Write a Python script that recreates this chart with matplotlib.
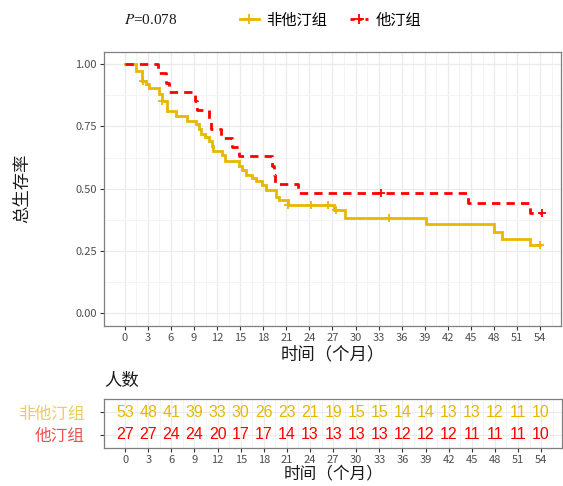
import matplotlib
matplotlib.use('Agg')
import matplotlib.pyplot as plt
from matplotlib.lines import Line2D
import numpy as np

plt.rcParams['font.family'] = ['Noto Sans CJK SC', 'DejaVu Sans']
plt.rcParams['mathtext.fontset'] = 'stix'

# survival steps (time in months, survival after the step)
nonstatin_t = [0, 1.5, 2.2, 2.7, 3.1, 4.5, 4.8, 5.5, 6.6, 8.1, 9.3, 9.6, 9.9, 10.4, 10.9,
               11.3, 11.5, 12.6, 13.0, 14.8, 15.2, 15.7, 16.5, 17.1, 17.8, 18.4, 19.7,
               20.1, 21.2, 27.2, 28.6, 39.1, 48.0, 49.0, 52.7]
nonstatin_s = [1.0, 0.972, 0.934, 0.920, 0.906, 0.880, 0.853, 0.813, 0.790, 0.773, 0.758,
               0.740, 0.720, 0.706, 0.693, 0.673, 0.653, 0.636, 0.613, 0.593, 0.577, 0.556,
               0.543, 0.530, 0.516, 0.493, 0.467, 0.453, 0.436, 0.413, 0.384, 0.357, 0.327,
               0.300, 0.273]
nonstatin_end = 54.0
nonstatin_cens_t = [2.4, 4.9, 21.2, 24.2, 26.4, 27.5, 34.3, 54.0]

statin_t = [0, 4.3, 5.3, 5.8, 9.1, 9.4, 10.9, 11.2, 12.5, 13.9, 14.8, 19.2, 19.35, 19.5,
            22.5, 44.6, 52.7]
statin_s = [1.0, 0.963, 0.926, 0.889, 0.852, 0.815, 0.778, 0.741, 0.704, 0.667, 0.630,
            0.593, 0.556, 0.519, 0.481, 0.441, 0.401]
statin_end = 54.2
statin_cens_t = [33.3, 54.2]

risk_times = list(range(0, 55, 3))
nonstatin_risk = [53, 48, 41, 39, 33, 30, 26, 23, 21, 19, 15, 15, 14, 14, 13, 13, 12, 11, 10]
statin_risk = [27, 27, 24, 24, 20, 17, 17, 14, 13, 13, 13, 13, 12, 12, 12, 11, 11, 11, 10]

groups = ['非他汀组', '他汀组']
colors = ['#E7B800', '#FF0000']
label_colors = ['#EDCB5C', '#F0504F']
p_text = '$P$=0.078'


def surv_at(ts, ss, t):
    idx = np.searchsorted(ts, t, side='right') - 1
    return ss[idx]


fig = plt.figure(figsize=(5.63, 4.86), dpi=100)
ax = fig.add_axes([0.1847, 0.3298, 0.8117, 0.5638])
tab = fig.add_axes([0.1854, 0.0780, 0.8126, 0.1020])

xlim = (-2.7, 56.7)
tick_gray = '#4D4D4D'

for a in (ax, tab):
    a.set_xlim(*xlim)
    a.set_xticks(risk_times)
    a.set_xticks(np.arange(1.5, 56, 3), minor=True)
    a.grid(True, which='major', color='#EBEBEB', lw=0.9)
    a.grid(True, which='minor', color='#F3F3F3', lw=0.6)
    a.set_axisbelow(True)
    for sp in a.spines.values():
        sp.set_color('#7F7F7F')
        sp.set_linewidth(0.9)
    a.tick_params(which='major', length=3, color='#333333', labelsize=8, labelcolor=tick_gray, pad=2)
    a.tick_params(which='minor', length=0)

# survival curves
ts = np.append(nonstatin_t, nonstatin_end)
ss = np.append(nonstatin_s, nonstatin_s[-1])
ax.step(ts, ss, where='post', color=colors[0], lw=2.0, solid_joinstyle='miter')
cy = [surv_at(nonstatin_t, nonstatin_s, t) for t in nonstatin_cens_t]
ax.plot(nonstatin_cens_t, cy, ls='none', marker='+', ms=6, mew=1.3, color=colors[0])

ts = np.append(statin_t, statin_end)
ss = np.append(statin_s, statin_s[-1])
ax.step(ts, ss, where='post', color=colors[1], lw=2.0, ls=(0, (3.0, 2.2)))
cy = [surv_at(statin_t, statin_s, t) for t in statin_cens_t]
ax.plot(statin_cens_t, cy, ls='none', marker='+', ms=6, mew=1.3, color=colors[1])

ax.set_ylim(-0.05, 1.05)
ax.set_yticks([0, 0.25, 0.5, 0.75, 1.0])
ax.set_yticklabels(['0.00', '0.25', '0.50', '0.75', '1.00'])
ax.set_yticks(np.arange(0.125, 1.0, 0.25), minor=True)
ax.set_xlabel('时间（个月）', fontsize=12.5, color='#1A1A1A', labelpad=2)
ax.set_ylabel('总生存率', fontsize=12.5, color='#1A1A1A', labelpad=32)

# risk table
rows = [2, 1]
for row, counts, col in zip(rows, [nonstatin_risk, statin_risk], colors):
    for t, n in zip(risk_times, counts):
        tab.text(t, row, str(n), ha='center', va='center', fontsize=11.5, color=col,
                 family=['Liberation Sans', 'DejaVu Sans'])
tab.set_ylim(0.40, 2.62)
tab.set_yticks(rows)
tab.set_yticklabels(groups, fontsize=12)
for lbl, col in zip(tab.get_yticklabels(), label_colors):
    lbl.set_color(col)
tab.tick_params(axis='y', pad=11)
tab.set_xlabel('时间（个月）', fontsize=12, color='#1A1A1A', labelpad=0)
fig.text(0.186, 0.216, '人数', fontsize=12.5, color='#1A1A1A', va='center', ha='left')

# legend and p value
handles = [Line2D([], [], color=colors[0], lw=2, marker='+', ms=7, mew=1.3),
           Line2D([], [], color=colors[1], lw=2, ls=(0, (1.5, 1.2)), marker='+', ms=7, mew=1.3)]
fig.legend(handles, groups, loc='center', bbox_to_anchor=(0.588, 0.959), ncol=2, frameon=False,
           fontsize=11, handlelength=1.2, handletextpad=0.5, columnspacing=1.5)
fig.text(0.22, 0.959, p_text, fontsize=11, family='Liberation Serif', va='center', ha='left',
         color='#1A1A1A')

fig.savefig('out.png', dpi=100)
